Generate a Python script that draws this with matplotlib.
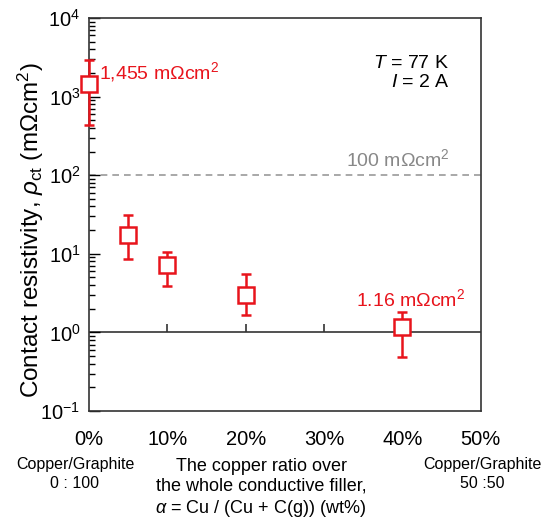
import numpy as np
import matplotlib
matplotlib.use('Agg')
import matplotlib.pyplot as plt

plt.rcParams['font.family'] = ['Liberation Sans', 'DejaVu Sans']
plt.rcParams['mathtext.fontset'] = 'custom'
plt.rcParams['mathtext.rm'] = 'Liberation Sans'
plt.rcParams['mathtext.it'] = 'Liberation Sans:italic'
plt.rcParams['axes.unicode_minus'] = False

# copper ratio (wt%) and contact resistivity (mOhm cm2)
ratio = [0, 5, 10, 20, 40]
rho = [1455, 17.5, 7.2, 3.0, 1.16]
rho_low = [440, 8.7, 3.9, 1.65, 0.49]
rho_high = [2900, 31, 10.5, 5.5, 1.8]

xticks = [0, 10, 20, 30, 40, 50]
xticklabels = ['0%', '10%', '20%', '30%', '40%', '50%']
red = '#e8141c'

fig = plt.figure(figsize=(5.52, 5.22), dpi=100)
ax = fig.add_axes([0.161, 0.2126, 0.71, 0.7529])

ratio = np.array(ratio)
rho = np.array(rho)
yerr = [rho - np.array(rho_low), np.array(rho_high) - rho]

# reference lines
ax.axhline(100, color='#999999', lw=1.2, ls=(0, (4, 3)), zorder=1)
ax.axhline(1, color='#333333', lw=1.2, zorder=1)
# x ticks sit on the 1 mOhm cm2 line
ax.plot(xticks[1:-1], [1] * (len(xticks) - 2), ls='none', marker=2,
        ms=6, mew=1.2, color='#333333', zorder=1)

ax.errorbar(ratio, rho, yerr=yerr, fmt='s', ms=12, mfc='white', mec=red,
            mew=1.8, ecolor=red, elinewidth=1.8, capsize=3.5, capthick=1.8,
            zorder=3, clip_on=False)

ax.set_yscale('log')
ax.set_ylim(0.1, 1e4)
ax.set_xlim(0, 50)
ax.set_xticks(xticks)
ax.set_xticklabels(xticklabels)
ax.tick_params(axis='x', length=0, pad=14, labelsize=14.5)
ax.tick_params(axis='y', which='both', direction='in', right=False,
               labelsize=14.5, pad=6)
ax.tick_params(axis='y', which='major', length=8, width=1)
ax.tick_params(axis='y', which='minor', length=4, width=1)
for s in ax.spines.values():
    s.set_color('#333333')
    s.set_linewidth(1.2)

ax.set_ylabel(r'Contact resistivity, $\rho_{\rm ct}$ (mΩcm$^2$)',
              fontsize=17.5)
ax.yaxis.set_label_coords(-0.11, 0.46)

ax.text(1.3, 1455, '1,455 mΩcm$^2$', color=red, fontsize=14, va='bottom')
ax.text(41, 1.95, '1.16 mΩcm$^2$', color=red, fontsize=14,
        ha='center', va='bottom')
ax.text(46, 115, '100 mΩcm$^2$', color='#888888', fontsize=14,
        ha='right', va='bottom')
ax.text(0.92, 0.905, '$T$ = 77 K\n$I$ = 2 A', transform=ax.transAxes,
        fontsize=14, ha='right', va='top', linespacing=1.1)

fig.text(75 / 552, 1 - 457 / 522, 'Copper/Graphite\n0 : 100', fontsize=11.5,
         ha='center', va='top', linespacing=1.35)
fig.text(482 / 552, 1 - 457 / 522, 'Copper/Graphite\n50 :50', fontsize=11.5,
         ha='center', va='top', linespacing=1.35)
fig.text(261 / 552, 1 - 458 / 522,
         'The copper ratio over\nthe whole conductive filler,\n'
         r'$\alpha$ = Cu / (Cu + C(g)) (wt%)',
         fontsize=13, ha='center', va='top', linespacing=1.2)

fig.savefig('out.png', dpi=100)
